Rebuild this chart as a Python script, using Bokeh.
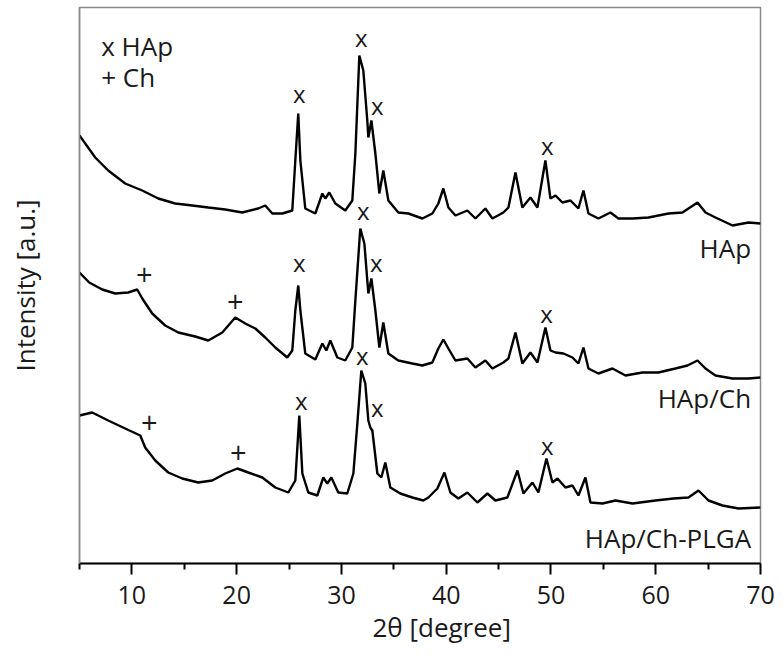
from bokeh.plotting import figure
from bokeh.models import FixedTicker, Title
from bokeh.core.properties import value
from bokeh.embed import file_html
from bokeh.resources import INLINE

FONT = "Open Sans"

# ---- data (2-theta in degrees, intensity in arbitrary units incl. vertical offset) ----
hap_x = [5.0, 6.5, 7.74, 9.36, 10.99, 12.52, 14.14, 15.76, 17.29, 18.91, 20.54, 22.06, 22.73, 23.40,
         24.36, 25.31, 25.60, 25.88, 26.08, 26.55, 27.51, 28.18, 28.46, 28.84, 29.42, 30.37, 31.04,
         31.33, 31.71, 32.09, 32.47, 32.57, 32.86, 33.24, 33.62, 34.00, 34.48, 35.43, 36.39, 37.73,
         38.68, 39.25, 39.73, 40.21, 40.88, 42.02, 42.79, 43.74, 44.41, 45.46, 45.94, 46.61, 47.27,
         48.04, 48.71, 49.47, 49.95, 50.43, 51.09, 51.86, 52.62, 53.10, 53.58, 54.53, 55.68, 56.44,
         57.78, 59.31, 61.22, 62.55, 63.99, 64.75, 65.70, 67.33, 68.86, 70.0]
hap_y = [428, 406, 393, 380, 373, 365, 360, 358, 356, 354, 351, 355, 358, 350,
         350, 353, 403, 450, 403, 355, 350, 370, 365, 371, 360, 353, 363,
         410, 508, 493, 443, 426, 443, 410, 370, 393, 363, 351, 350, 345,
         350, 360, 375, 356, 348, 353, 345, 355, 345, 351, 356, 391, 356,
         366, 356, 403, 365, 368, 361, 363, 355, 373, 350, 345, 351, 345,
         345, 346, 350, 351, 361, 351, 346, 338, 341, 340]

hapch_x = [5.0, 5.93, 7.17, 8.41, 9.65, 10.51, 10.99, 11.94, 13.18, 14.43, 16.05, 17.29, 18.63,
           19.87, 20.82, 21.78, 22.73, 23.69, 24.83, 25.31, 25.60, 25.88, 26.08, 26.55, 27.51,
           28.18, 28.56, 28.94, 29.61, 30.37, 31.04, 31.33, 31.80, 32.19, 32.57, 32.86, 33.24,
           33.62, 34.00, 34.48, 35.43, 36.77, 37.73, 38.68, 39.25, 39.73, 40.21, 40.88, 42.02,
           42.79, 43.74, 44.41, 45.46, 45.94, 46.61, 47.27, 48.04, 48.71, 49.47, 49.95, 50.43,
           51.19, 52.05, 52.62, 53.10, 53.58, 54.53, 55.87, 57.11, 58.73, 60.26, 61.88, 63.03,
           63.99, 64.75, 65.70, 67.33, 68.86, 70.0]
hapch_y = [291, 281, 274, 270, 271, 274, 265, 250, 238, 231, 227, 223, 231,
           246, 240, 235, 226, 216, 206, 213, 253, 278, 253, 210, 204,
           220, 213, 223, 206, 203, 216, 263, 335, 320, 270, 285, 253,
           216, 241, 210, 203, 200, 198, 201, 215, 224, 215, 203, 205,
           196, 203, 195, 201, 205, 231, 200, 211, 201, 236, 213, 211,
           210, 206, 200, 216, 195, 190, 195, 188, 191, 191, 195, 198,
           203, 195, 188, 185, 185, 186]

plga_x = [5.0, 6.21, 7.74, 9.36, 10.80, 11.27, 12.23, 13.47, 14.81, 16.33, 17.67, 18.91, 20.06,
          21.11, 22.45, 23.69, 24.93, 25.60, 25.98, 26.27, 26.84, 27.70, 28.27, 28.65, 29.04,
          29.70, 30.56, 31.14, 31.52, 31.90, 32.28, 32.57, 32.76, 32.95, 33.43, 33.81, 34.19,
          34.67, 35.62, 36.77, 37.82, 38.30, 39.16, 39.83, 40.40, 41.16, 42.02, 42.98, 43.93,
          44.70, 45.84, 46.80, 47.37, 48.23, 48.80, 49.57, 50.14, 50.62, 51.38, 52.05, 52.62,
          53.29, 53.77, 54.91, 56.16, 57.78, 59.97, 61.69, 63.13, 64.08, 65.04, 66.37, 67.90, 70.0]
plga_y = [148, 151, 143, 135, 128, 116, 103, 91, 85, 81, 83, 90, 95,
          91, 86, 76, 71, 83, 148, 90, 71, 68, 86, 80, 86,
          71, 70, 90, 140, 193, 180, 143, 136, 133, 90, 86, 101,
          76, 70, 66, 63, 66, 75, 91, 71, 65, 71, 61, 70,
          63, 66, 93, 70, 81, 71, 105, 81, 85, 76, 78, 68,
          86, 61, 60, 63, 60, 63, 65, 66, 73, 63, 58, 55, 56]

# HAp peak markers ("x")
hapmark_x = [25.98, 31.90, 33.43, 49.66,
             25.98, 32.09, 33.33, 49.57,
             26.17, 32.00, 33.43, 49.66]
hapmark_y = [470, 526, 458, 418,
             301, 353, 301, 250,
             163, 208, 156, 118]

# chitosan markers ("+")
chmark_x = [11.18, 19.87, 11.66, 20.15]
chmark_y = [289, 262, 141, 111]

# sample names
name_x = [69.1, 69.1, 69.1]
name_y = [316, 166, 26]
name_text = ["HAp", "HAp/Ch", "HAp/Ch-PLGA"]

# legend lines
leg_x = [7.07, 7.07]
leg_y = [518, 487]
leg_text = ["x HAp", "+ Ch"]

x_major = [10, 20, 30, 40, 50, 60, 70]
x_minor = [5, 15, 25, 35, 45, 55, 65]

p = figure(width=776, height=648, output_backend="svg", toolbar_location=None,
           x_range=(5, 70), y_range=(0, 556),
           min_border_left=79, min_border_right=16, min_border_top=7, min_border_bottom=85)
p.background_fill_color = "white"
p.border_fill_color = "white"
p.outline_line_color = "#8a8a8a"
p.outline_line_width = 1.5
p.xgrid.visible = False
p.ygrid.visible = False

ax = p.xaxis[0]
ax.ticker = FixedTicker(ticks=x_major, minor_ticks=x_minor)
ax.axis_line_color = "black"
ax.axis_line_width = 2
ax.major_tick_line_color = "black"
ax.major_tick_line_width = 2
ax.minor_tick_line_color = "black"
ax.minor_tick_line_width = 2
ax.major_tick_out = 11
ax.major_tick_in = 0
ax.minor_tick_out = 6
ax.minor_tick_in = 0
ax.major_label_text_font = FONT
ax.major_label_text_font_size = "25px"
ax.major_label_text_color = "#1a1a1a"
ax.major_label_standoff = 11

ay = p.yaxis[0]
ay.ticker = FixedTicker(ticks=[], minor_ticks=[])
ay.axis_line_color = "#8a8a8a"
ay.axis_line_width = 1.5
ay.major_tick_line_color = None
ay.minor_tick_line_color = None
ay.major_label_text_font_size = "0px"
ay.axis_label = "Intensity [a.u.]"
ay.axis_label_text_font = FONT
ay.axis_label_text_font_size = "26px"
ay.axis_label_text_font_style = "normal"
ay.axis_label_text_color = "#1a1a1a"
ay.axis_label_standoff = 37

p.add_layout(Title(text="2θ [degree]", align="left", offset=293, standoff=0,
                   text_font=FONT, text_font_size="26px", text_font_style="normal",
                   text_color="#1a1a1a"), "below")

for xs, ys in [(hap_x, hap_y), (hapch_x, hapch_y), (plga_x, plga_y)]:
    p.line(xs, ys, line_color="black", line_width=2.4)

p.text(x=hapmark_x, y=hapmark_y, text=["x"] * len(hapmark_x), text_font=value(FONT),
       text_font_size="24px", text_align="center", text_baseline="alphabetic",
       text_color="#1a1a1a")
p.text(x=chmark_x, y=chmark_y, text=["+"] * len(chmark_x), text_font=value(FONT),
       text_font_size="29px", text_align="center", text_baseline="alphabetic",
       text_color="#1a1a1a")
p.text(x=name_x, y=name_y, text=name_text, text_font=value(FONT), text_font_size="26px",
       text_align="right", text_baseline="alphabetic", text_color="#1a1a1a")
p.text(x=leg_x, y=leg_y, text=leg_text, text_font=value(FONT), text_font_size="26px",
       text_align="left", text_baseline="alphabetic", text_color="#1a1a1a")

open("out.html", "w").write(file_html(p, INLINE))
